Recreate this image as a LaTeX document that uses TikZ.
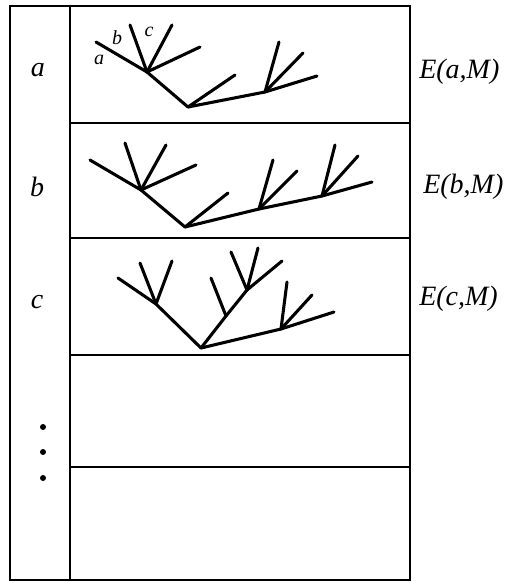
\documentclass[tikz,border=0pt]{standalone}
\usepackage{fontspec}
\setmainfont{Liberation Serif}
\begin{document}
\begin{tikzpicture}[x=0.75pt,y=-0.75pt,
  frame/.style={line width=1.5pt},
  br/.style={line width=2.3pt,line cap=round,line join=round},
  lbl/.style={font=\fontsize{21}{24}\selectfont\itshape,inner sep=0pt},
  sml/.style={font=\fontsize{15}{17}\selectfont\itshape,inner sep=0pt},
  dot/.style={circle,fill=black,inner sep=0pt,minimum size=4.5pt}]
\useasboundingbox (0,0) rectangle (505,582);
% frame
\coordinate (TL) at (10,6);
\coordinate (BR) at (410,580);
\draw[frame] (TL) rectangle (BR);
\coordinate (ct) at (70,6);
\coordinate (cb) at (70,580);
\draw[frame] (ct) -- (cb);
\foreach \y/\n in {123/1,238/2,355/3,467/4}{
  \coordinate (hl\n) at (70,\y);
  \coordinate (hr\n) at (410,\y);
  \draw[frame] (hl\n) -- (hr\n);
}
% left labels
\node[lbl] (la) at (38,70) {a};
\node[lbl] (lb) at (37,187) {b};
\node[lbl] (lc) at (37,302) {c};
\node[dot] (d1) at (43,427) {};
\node[dot] (d2) at (43,452) {};
\node[dot] (d3) at (43,478) {};
% right labels
\node[lbl,anchor=west] (ea) at (419,72) {E(a,M)};
\node[lbl,anchor=west] (eb) at (423,187) {E(b,M)};
\node[lbl,anchor=west] (ec) at (419,299) {E(c,M)};
% tree a
\coordinate (A) at (188,107);
\coordinate (A1) at (147,72);
\coordinate (Aa) at (96,42);
\coordinate (Ab) at (130,25);
\coordinate (Ac) at (172,25);
\coordinate (Ad) at (200,47);
\coordinate (Ae) at (235,75);
\coordinate (A2) at (265,92);
\coordinate (Af) at (317,76);
\coordinate (Ag) at (279,42);
\coordinate (Ah) at (303,53);
\draw[br] (A) -- (A1) -- (Aa);
\draw[br] (A1) -- (Ab);
\draw[br] (A1) -- (Ac);
\draw[br] (A1) -- (Ad);
\draw[br] (A) -- (Ae);
\draw[br] (A) -- (A2) -- (Af);
\draw[br] (A2) -- (Ag);
\draw[br] (A2) -- (Ah);
\node[sml] (ta) at (99,60) {a};
\node[sml] (tb) at (117,38) {b};
\node[sml] (tc) at (149,32) {c};
% tree b
\coordinate (B) at (185,227);
\coordinate (B1) at (141,190);
\coordinate (Ba) at (90,160);
\coordinate (Bb) at (125,143);
\coordinate (Bc) at (166,145);
\coordinate (Bd) at (196,165);
\coordinate (Be) at (228,193);
\coordinate (B2) at (259,209);
\coordinate (B3) at (322,196);
\coordinate (Bf) at (372,182);
\coordinate (Bg) at (273,160);
\coordinate (Bh) at (297,171);
\coordinate (Bi) at (335,145);
\coordinate (Bj) at (358,156);
\draw[br] (B) -- (B1) -- (Ba);
\draw[br] (B1) -- (Bb);
\draw[br] (B1) -- (Bc);
\draw[br] (B1) -- (Bd);
\draw[br] (B) -- (Be);
\draw[br] (B) -- (B2) -- (B3) -- (Bf);
\draw[br] (B2) -- (Bg);
\draw[br] (B2) -- (Bh);
\draw[br] (B3) -- (Bi);
\draw[br] (B3) -- (Bj);
% tree c
\coordinate (C) at (201,348);
\coordinate (C1) at (156,304);
\coordinate (Ca) at (118,278);
\coordinate (Cb) at (140,263);
\coordinate (Cc) at (172,261);
\coordinate (C2) at (226,316);
\coordinate (C3) at (247,290);
\coordinate (Cd) at (282,261);
\coordinate (Ce) at (211,278);
\coordinate (Cf) at (231,252);
\coordinate (Cg) at (258,248);
\coordinate (C4) at (281,329);
\coordinate (Ch) at (334,312);
\coordinate (Ci) at (287,282);
\coordinate (Cj) at (312,295);
\draw[br] (C) -- (C1) -- (Ca);
\draw[br] (C1) -- (Cb);
\draw[br] (C1) -- (Cc);
\draw[br] (C) -- (C2) -- (C3) -- (Cd);
\draw[br] (C2) -- (Ce);
\draw[br] (C3) -- (Cf);
\draw[br] (C3) -- (Cg);
\draw[br] (C) -- (C4) -- (Ch);
\draw[br] (C4) -- (Ci);
\draw[br] (C4) -- (Cj);
\end{tikzpicture}
\end{document}
